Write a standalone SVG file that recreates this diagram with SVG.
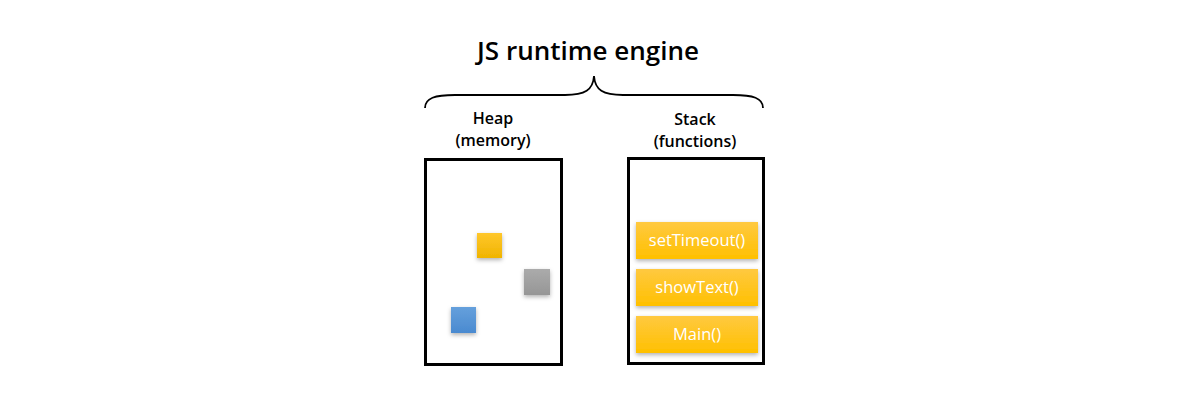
<svg xmlns="http://www.w3.org/2000/svg" width="1200" height="400" viewBox="0 0 1200 400">
<defs>
<linearGradient id="gy" x1="0" y1="0" x2="0" y2="1"><stop offset="0" stop-color="#ffc940"/><stop offset="1" stop-color="#ffc000"/></linearGradient>
<linearGradient id="gy2" x1="0" y1="0" x2="0" y2="1"><stop offset="0" stop-color="#ffc72c"/><stop offset="1" stop-color="#f0b400"/></linearGradient>
<linearGradient id="gg" x1="0" y1="0" x2="0" y2="1"><stop offset="0" stop-color="#ababab"/><stop offset="1" stop-color="#969696"/></linearGradient>
<linearGradient id="gb" x1="0" y1="0" x2="0" y2="1"><stop offset="0" stop-color="#65a0dc"/><stop offset="1" stop-color="#4a8ad0"/></linearGradient>
<filter id="sh" x="-30%" y="-30%" width="160%" height="160%"><feDropShadow dx="0" dy="2" stdDeviation="2" flood-color="#000" flood-opacity="0.3"/></filter>
</defs>
<style>
.t{font-family:"Open Sans","Noto Sans",sans-serif;fill:#000;text-anchor:middle}
.title{font-size:26px;font-weight:600}
.lbl{font-size:16px;font-weight:600}
.box{fill:#fff;stroke:#000;stroke-width:3}
.fn{fill:url(#gy);filter:url(#sh)}
.ft{font-family:"Open Sans","Noto Sans",sans-serif;font-size:16.5px;fill:#fff;text-anchor:middle}
</style>
<rect width="1200" height="400" fill="#fff"/>
<g id="title"><text class="t title" x="588" y="60">JS runtime engine</text></g>
<g id="connectors"><path d="M425,108 C425,98 435,95 455,95 L565,95 C585,95 593,90 594,76 C595,90 603,95 623,95 L733,95 C753,95 763,98 763,108" fill="none" stroke="#000" stroke-width="1.8"/></g>
<g id="heap">
<text class="t lbl" x="493" y="124">Heap</text>
<text class="t lbl" x="493" y="146">(memory)</text>
<rect class="box" x="425.5" y="159.5" width="136" height="205"/>
<rect x="477" y="233" width="25" height="25" fill="url(#gy2)" filter="url(#sh)"/>
<rect x="524" y="269" width="26" height="26" fill="url(#gg)" filter="url(#sh)"/>
<rect x="451" y="307" width="25" height="26" fill="url(#gb)" filter="url(#sh)"/>
</g>
<g id="stack">
<text class="t lbl" x="695" y="125">Stack</text>
<text class="t lbl" x="695" y="147">(functions)</text>
<rect class="box" x="628.5" y="158.5" width="135" height="205"/>
</g>
<g id="fn-setTimeout"><rect class="fn" x="636" y="222" width="122" height="37"/><text class="ft" x="697" y="246">setTimeout()</text></g>
<g id="fn-showText"><rect class="fn" x="636" y="269" width="122" height="37"/><text class="ft" x="697" y="293">showText()</text></g>
<g id="fn-main"><rect class="fn" x="636" y="316" width="122" height="37"/><text class="ft" x="697" y="340">Main()</text></g>
</svg>
